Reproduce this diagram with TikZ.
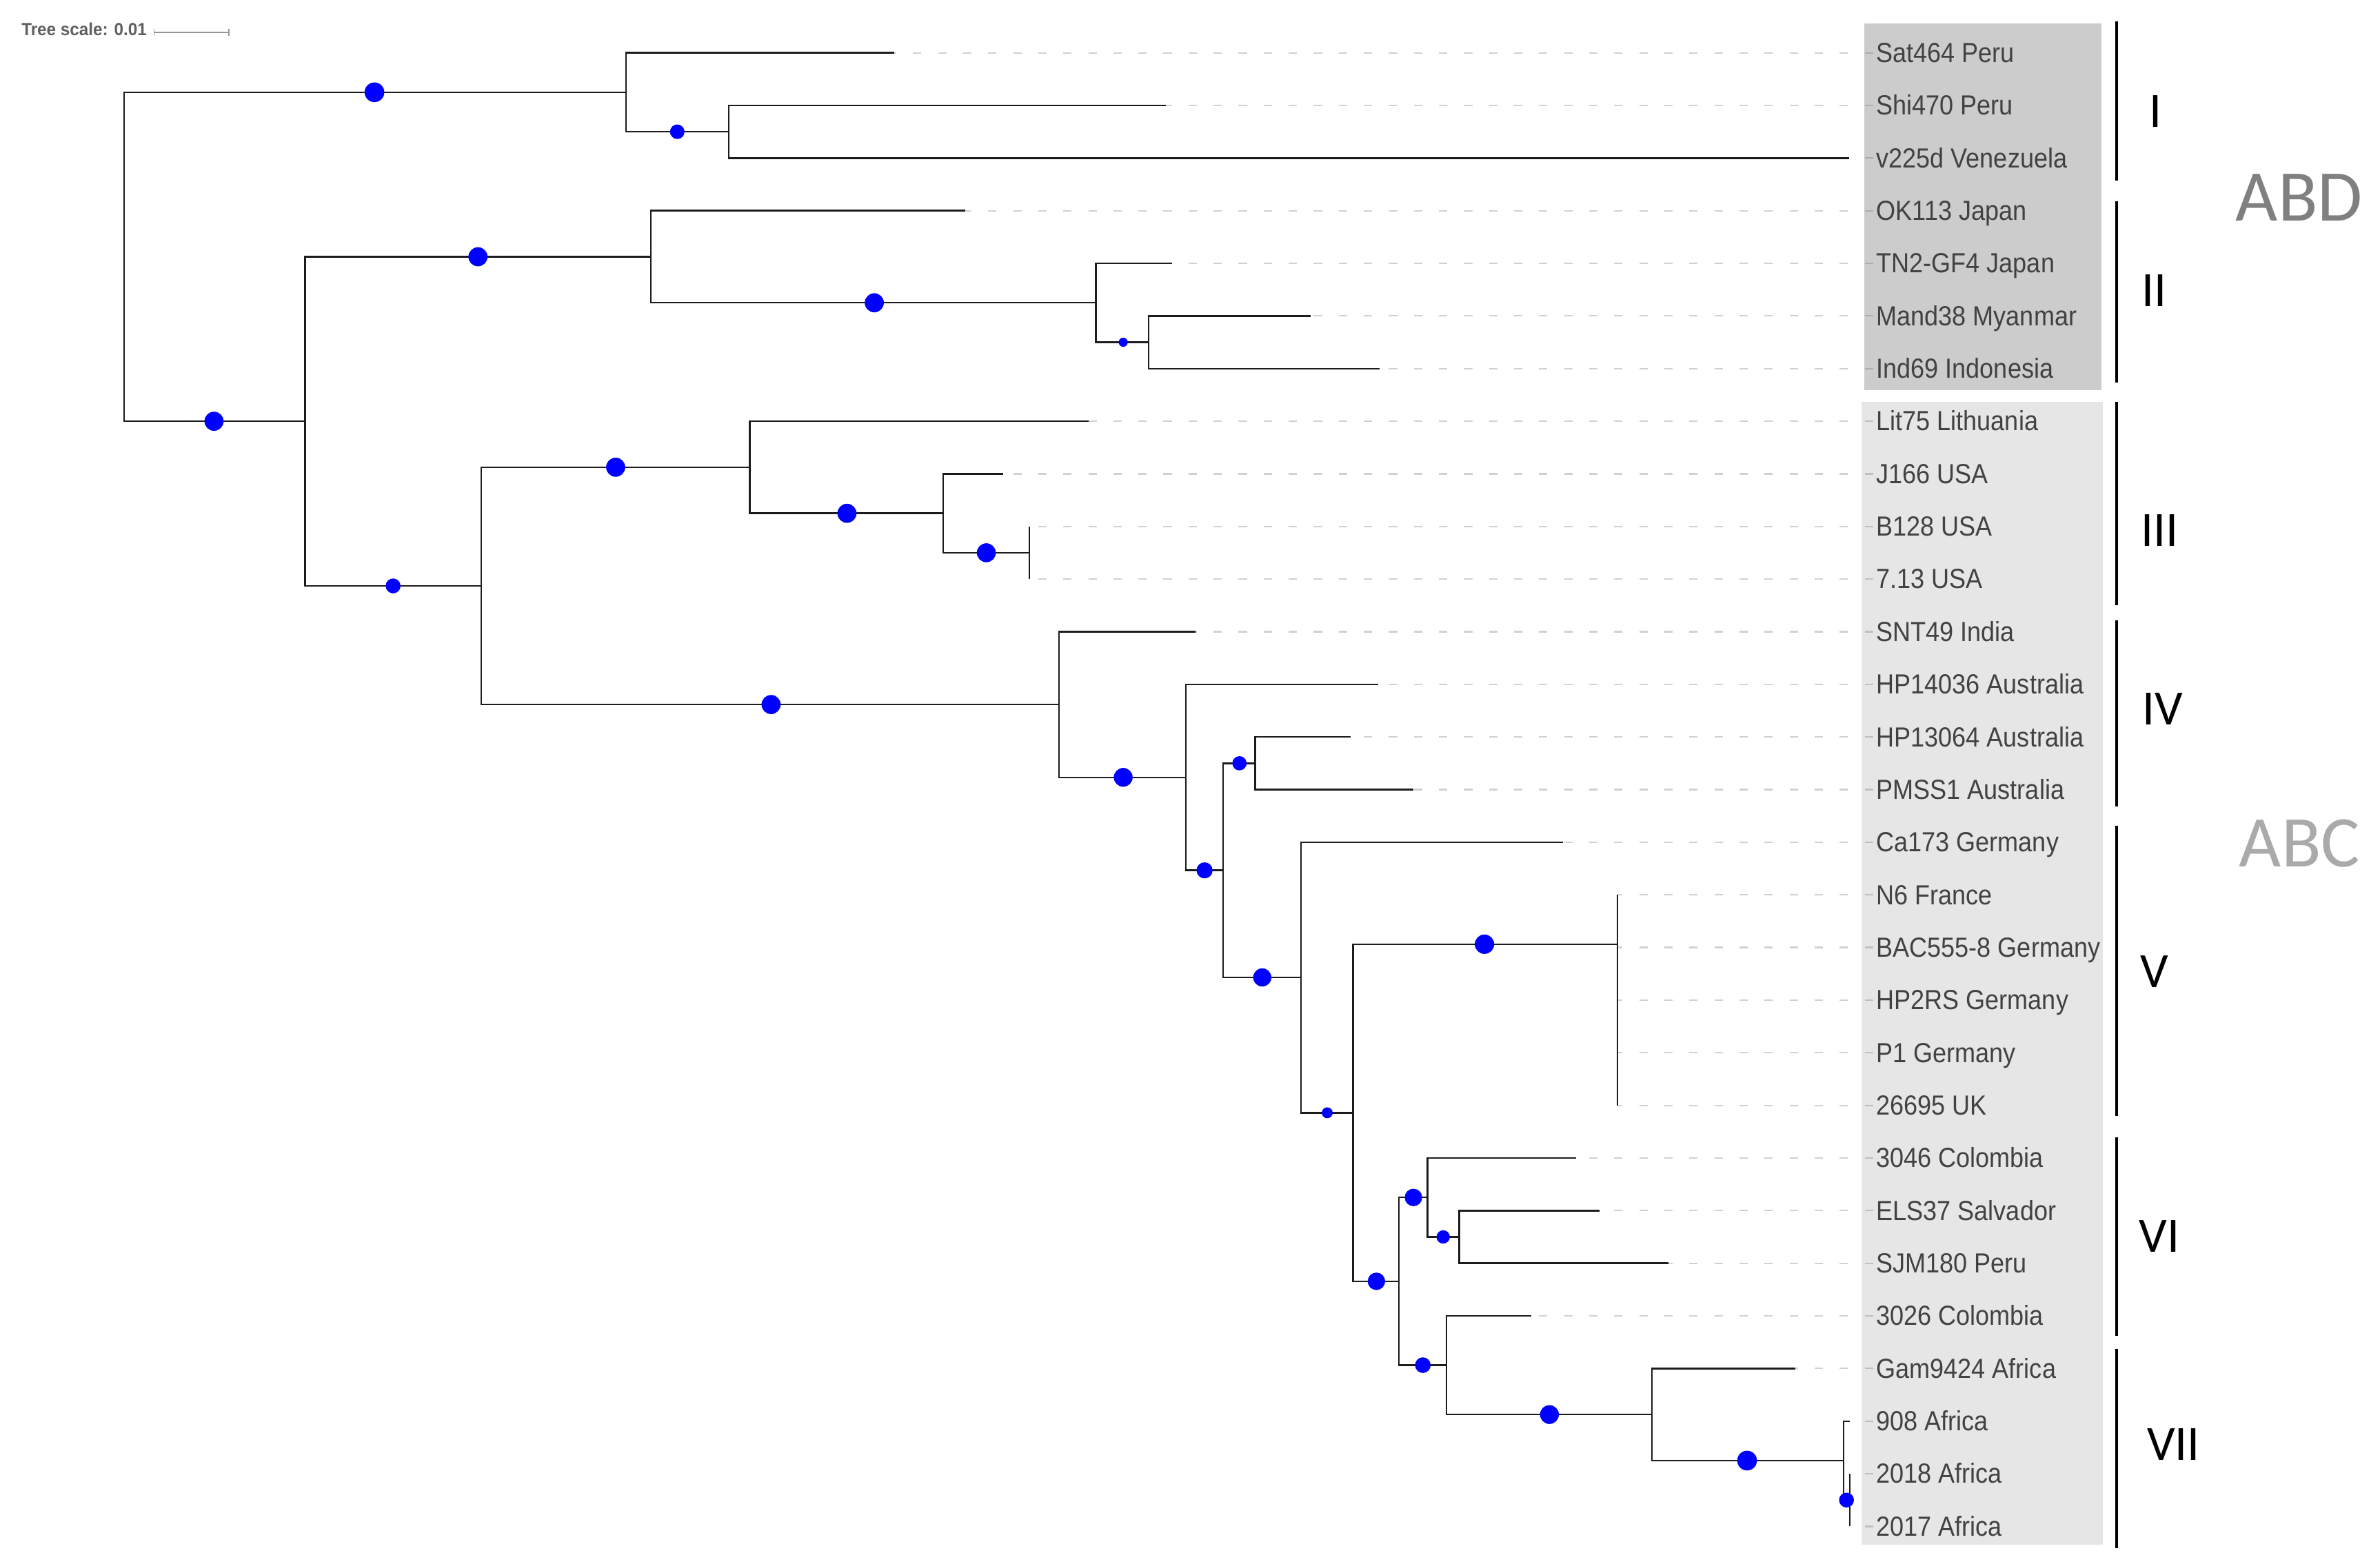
\documentclass[tikz,border=0pt]{standalone}
\usepackage{fontspec}
\setmainfont{Liberation Sans}
\newfontfamily\leaflabfont[FakeStretch=0.9]{Liberation Sans}
\newfontfamily\tsfont[FakeStretch=0.95]{Liberation Sans}
\newfontfamily\cladefont{Carlito}
\definecolor{treeline}{RGB}{28,28,28}
\definecolor{labtext}{RGB}{66,66,66}
\definecolor{boxdark}{RGB}{204,204,204}
\definecolor{boxlight}{RGB}{230,230,230}
\definecolor{abdgray}{RGB}{128,128,128}
\definecolor{abcgray}{RGB}{170,170,170}
\definecolor{tsgray}{RGB}{96,96,96}
\definecolor{sbgray}{RGB}{150,150,150}
\begin{document}
\begin{tikzpicture}[x=1pt,y=-1pt,
  branch/.style={draw=treeline,line width=1.1pt},
  bdot/.style={circle,fill=blue,inner sep=0pt,minimum size=#1pt},
  leader/.style={draw=black!60,draw opacity=0.3,line width=1pt,dash pattern=on 5.5pt off 11pt},
  leaflab/.style={anchor=base west,inner sep=0pt,text=labtext,font=\leaflabfont\fontsize{18.2}{20}\selectfont},
  cladelab/.style={anchor=base,inner sep=0pt,text=black,font=\cladefont\fontsize{32.5}{36}\selectfont},
  bigclade/.style={anchor=base,inner sep=0pt,font=\cladefont\fontsize{48}{52}\selectfont},
  cladebar/.style={draw=black,line width=2pt},
  scalebar/.style={draw=sbgray,line width=0.8pt}]
\useasboundingbox (0,0) rectangle (1568,1030.2);

% label boxes
\fill[boxdark] (1228,15.3) rectangle (1384.6,257);
\fill[boxlight] (1226.5,264.8) rectangle (1385.6,1017.7);

% leaves: tip coordinates, leaders and labels
\foreach \i/\tx/\lab in {
0/589/Sat464 Peru,
1/768/Shi470 Peru,
2/1218/v225d Venezuela,
3/636/OK113 Japan,
4/772/TN2-GF4 Japan,
5/863.5/Mand38 Myanmar,
6/909/Ind69 Indonesia,
7/717/Lit75 Lithuania,
8/660.7/J166 USA,
9/678.1/B128 USA,
10/678.1/7.13 USA,
11/787.5/SNT49 India,
12/908/HP14036 Australia,
13/889.8/HP13064 Australia,
14/931/PMSS1 Australia,
15/1029.8/Ca173 Germany,
16/1065.6/N6 France,
17/1065.6/BAC555-8 Germany,
18/1065.6/HP2RS Germany,
19/1065.6/P1 Germany,
20/1065.6/26695 UK,
21/1038.2/3046 Colombia,
22/1053.6/ELS37 Salvador,
23/1099.3/SJM180 Peru,
24/1009/3026 Colombia,
25/1182.8/Gam9424 Africa,
26/1218.6/908 Africa,
27/1218.6/2018 Africa,
28/1218.6/2017 Africa}{
  \pgfmathsetmacro\yy{34.8+34.68*\i}
  \coordinate (t\i) at (\tx,\yy);
  \coordinate (e\i) at (1234,\yy);
  \draw[leader] (e\i) -- (t\i);
  \node[leaflab] (lab\i) at (1236,\yy+6.3) {\lab};
}

% internal nodes
\coordinate (root) at (81.7,169.2);
\coordinate (A) at (412.5,60.8);
\coordinate (A2) at (480,86.82);
\coordinate (B) at (200.9,277.6);
\coordinate (C) at (428.9,169.2);
\coordinate (C2) at (722,199.53);
\coordinate (C3) at (756.8,225.54);
\coordinate (D) at (317,386.1);
\coordinate (E) at (494,307.9);
\coordinate (E2) at (621.3,338.25);
\coordinate (E3) at (678.1,364.26);
\coordinate (F) at (697.7,464.27);
\coordinate (F2) at (781.3,512.25);
\coordinate (F3) at (805.8,573.55);
\coordinate (F4) at (827,502.98);
\coordinate (G) at (857,644.1);
\coordinate (H) at (891.4,733.3);
\coordinate (HV) at (1065.6,622.2);
\coordinate (I) at (921.6,844.35);
\coordinate (J) at (940.5,789.09);
\coordinate (K) at (961.4,815.1);
\coordinate (L) at (953,899.6);
\coordinate (M) at (1088.3,932.15);
\coordinate (N) at (1214.5,962.49);
\coordinate (O) at (1218.6,988.5);

% branches
\foreach \p/\c in {root/A,root/B,A/t0,A/A2,A2/t1,A2/t2,B/C,B/D,C/t3,C/C2,C2/t4,C2/C3,C3/t5,C3/t6,
  D/E,D/F,E/t7,E/E2,E2/t8,E2/E3,E3/t9,E3/t10,F/t11,F/F2,F2/t12,F2/F3,F3/F4,F3/G,F4/t13,F4/t14,
  G/t15,G/H,H/HV,H/I,HV/t16,HV/t17,HV/t18,HV/t19,HV/t20,I/J,I/L,J/t21,J/K,K/t22,K/t23,
  L/t24,L/M,M/t25,M/N,N/t26,N/O,O/t27,O/t28}{
  \draw[branch] (\p) |- (\c);
}

% support dots
\foreach \n/\x/\y/\s in {
1/246.7/60.8/13, 2/446.2/86.82/9.6, 3/141/277.6/12.6, 4/314.9/169.2/12.6,
5/259/386.1/9.8, 6/576/199.53/12.6, 7/740/225.54/6, 8/405.6/307.9/12.6,
9/558/338.25/12.6, 10/649.8/364.26/12.5, 11/508/464.27/12.6, 12/740/512.25/12.4,
13/816.6/502.98/9.4, 14/793.6/573.55/10.6, 15/831.6/644.1/12, 16/874.4/733.3/7.2,
17/978/622.2/12.8, 18/906.8/844.35/11.5, 19/931.2/789.09/11.5, 20/950.8/815.1/8.8,
21/937.4/899.6/10.3, 22/1020.8/932.15/12.4, 23/1151/962.49/13, 24/1216.5/988.5/9.8}{
  \node[bdot=\s] (dot\n) at (\x,\y) {};
}

% clade bars
\draw[cladebar] (1394.6,14.3) -- (1394.6,119.2);
\draw[cladebar] (1394.6,132.5) -- (1394.6,252);
\draw[cladebar] (1394.6,264.8) -- (1394.6,399);
\draw[cladebar] (1394.6,408.7) -- (1394.6,531.5);
\draw[cladebar] (1394.6,544) -- (1394.6,735.3);
\draw[cladebar] (1394.6,749.6) -- (1394.6,880.4);
\draw[cladebar] (1394.6,888.7) -- (1394.6,1020);

% clade labels
\node[cladelab] (cI) at (1420,83.7) {I};
\node[cladelab] (cII) at (1419.3,202.1) {II};
\node[cladelab] (cIII) at (1423,360) {III};
\node[cladelab] (cIV) at (1425,477.5) {IV};
\node[cladelab] (cV) at (1419.3,650.8) {V};
\node[cladelab] (cVI) at (1422.6,824.9) {VI};
\node[cladelab] (cVII) at (1431.9,962.1) {VII};
\node[bigclade,text=abdgray] (abd) at (1514.7,145.7) {ABD};
\node[bigclade,text=abcgray] (abc) at (1515,571) {ABC};

% tree scale
\node[anchor=base west,inner sep=0pt,text=tsgray,font=\tsfont\bfseries\fontsize{11.6}{13}\selectfont] (ts) at (14,23.5) {Tree scale: 0.01};
\coordinate (sb1) at (101.5,21.2);
\coordinate (sb2) at (150.7,21.2);
\draw[scalebar] (sb1) -- (sb2);
\draw[scalebar] ([yshift=2.3pt]sb1) -- ([yshift=-2.3pt]sb1);
\draw[scalebar] ([yshift=2.3pt]sb2) -- ([yshift=-2.3pt]sb2);
\end{tikzpicture}
\end{document}
